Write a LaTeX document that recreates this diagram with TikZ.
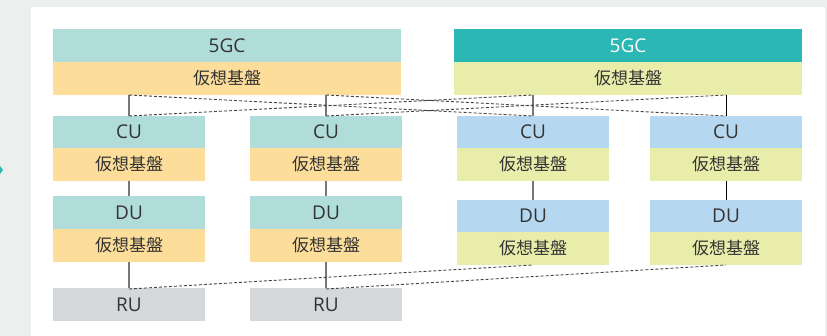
\documentclass[tikz,border=0pt]{standalone}
\usepackage{fontspec}
\setmainfont{Open Sans}
\newfontfamily\jafont{Noto Sans CJK JP}
\definecolor{bgc}{HTML}{EDEFEE}
\definecolor{tealL}{HTML}{B0DDD9}
\definecolor{tealD}{HTML}{2BB7B3}
\definecolor{orng}{HTML}{FDDD9A}
\definecolor{ygrn}{HTML}{E8EDAA}
\definecolor{blu}{HTML}{B5D7F0}
\definecolor{rug}{HTML}{D5D8DB}
\definecolor{txt}{HTML}{333333}
\definecolor{lnc}{HTML}{777777}
\definecolor{dsh}{HTML}{444444}
\begin{document}
\begin{tikzpicture}[x=1pt,y=-1pt,
  boxbase/.style={rectangle, inner sep=0pt, outer sep=0pt, text=txt, minimum width=152pt},
  lat/.style={boxbase, font=\fontsize{19}{22}\selectfont},
  ja/.style={boxbase, font=\jafont\fontsize{17}{20}\selectfont},
  wide/.style={minimum width=348pt},
  solidln/.style={draw=lnc, line width=1.4pt},
  solidbk/.style={draw=black, line width=0.9pt},
  dashln/.style={draw=dsh, line width=0.9pt, dash pattern=on 3pt off 2pt}]
\useasboundingbox (0,0) rectangle (827,336);
\fill[bgc] (0,0) rectangle (827,336);
\fill[white] (31,7) rectangle (825,336);
\fill[tealD] (0,166) -- (3,170) -- (0,174) -- cycle;
% 5GC blocks
\node[lat, wide, fill=tealL, minimum height=33pt] (g1) at (227,45.5) {5GC};
\node[ja, wide, fill=orng, minimum height=33pt] (g1v) at (227,78.5) {仮想基盤};
\node[lat, wide, fill=tealD, minimum height=33pt, text=white] (g2) at (628,45.5) {5GC};
\node[ja, wide, fill=ygrn, minimum height=33pt] (g2v) at (628,78.5) {仮想基盤};
% CU row
\node[lat, fill=tealL, minimum height=32pt] (cu1) at (129,132) {CU};
\node[ja, fill=orng, minimum height=33pt] (cu1v) at (129,164.5) {仮想基盤};
\node[lat, fill=tealL, minimum height=32pt] (cu2) at (326,132) {CU};
\node[ja, fill=orng, minimum height=33pt] (cu2v) at (326,164.5) {仮想基盤};
\node[lat, fill=blu, minimum height=32pt] (cu3) at (533,132) {CU};
\node[ja, fill=ygrn, minimum height=33pt] (cu3v) at (533,164.5) {仮想基盤};
\node[lat, fill=blu, minimum height=32pt] (cu4) at (726,132) {CU};
\node[ja, fill=ygrn, minimum height=33pt] (cu4v) at (726,164.5) {仮想基盤};
% DU row
\node[lat, fill=tealL, minimum height=33pt] (du1) at (129,212.5) {DU};
\node[ja, fill=orng, minimum height=33pt] (du1v) at (129,245.5) {仮想基盤};
\node[lat, fill=tealL, minimum height=33pt] (du2) at (326,212.5) {DU};
\node[ja, fill=orng, minimum height=33pt] (du2v) at (326,245.5) {仮想基盤};
\node[lat, fill=blu, minimum height=32pt] (du3) at (533,216) {DU};
\node[ja, fill=ygrn, minimum height=33pt] (du3v) at (533,248.5) {仮想基盤};
\node[lat, fill=blu, minimum height=32pt] (du4) at (726,216) {DU};
\node[ja, fill=ygrn, minimum height=33pt] (du4v) at (726,248.5) {仮想基盤};
% RU row
\node[lat, fill=rug, minimum height=33pt] (ru1) at (129,304.5) {RU};
\node[lat, fill=rug, minimum height=33pt] (ru2) at (326,304.5) {RU};
% 5GC - CU solid
\draw[solidln] (g1v.south -| cu1.north) -- (cu1.north);
\draw[solidln] (g1v.south -| cu2.north) -- (cu2.north);
\draw[solidln] (g2v.south -| cu3.north) -- (cu3.north);
\draw[solidbk] (g2v.south -| cu4.north) -- (cu4.north);
% 5GC - CU dashed cross links
\draw[dashln] (g1v.south -| cu1.north) -- (cu3.north);
\draw[dashln] (cu1.north) -- (g2v.south -| cu3.north);
\draw[dashln] (g1v.south -| cu2.north) -- (cu4.north);
\draw[dashln] (cu2.north) -- (g2v.south -| cu4.north);
% CU - DU
\draw[solidln] (cu1v.south) -- (du1.north);
\draw[solidln] (cu2v.south) -- (du2.north);
\draw[solidln] (cu3v.south) -- (du3.north);
\draw[solidbk] (cu4v.south) -- (du4.north);
% DU - RU
\draw[solidln] (du1v.south) -- (ru1.north);
\draw[solidln] (du2v.south) -- (ru2.north);
\draw[dashln] ([yshift=-1pt]ru1.north) -- (du3v.south);
\draw[dashln] ([yshift=-1pt]ru2.north) -- (du4v.south);
\end{tikzpicture}
\end{document}
